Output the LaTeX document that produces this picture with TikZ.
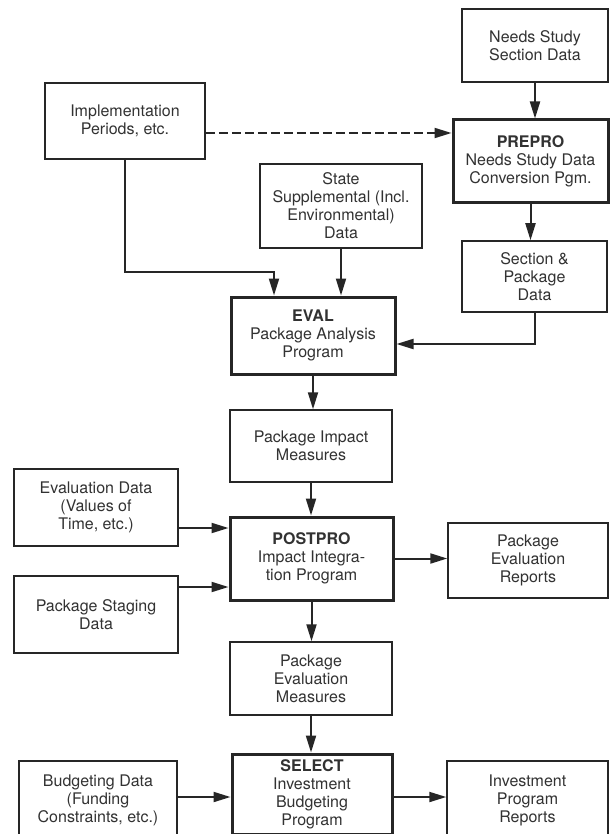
\documentclass[tikz,border=0pt]{standalone}
\usepackage{fontspec}
\setmainfont{TeX Gyre Heros}
\usetikzlibrary{arrows.meta}

\definecolor{ink}{RGB}{38,38,38}
\definecolor{txt}{RGB}{50,50,50}

\tikzset{
  databox/.style={draw=ink, line width=1.5pt, align=center, inner sep=0pt,
    text=txt, font=\fontsize{16}{18}\selectfont},
  progbox/.style={databox, line width=3pt},
  flow/.style={draw=ink, line width=2pt,
    -{Triangle[length=17pt,width=10pt]}},
}

\begin{document}
\begin{tikzpicture}[x=1pt, y=-1pt]
  \useasboundingbox[fill=white] (0,0) rectangle (610,834);

  % inputs and programs, top to bottom
  \node[databox, minimum width=146pt, minimum height=73pt] (needs) at (535,45.5)
    {Needs Study\\Section Data};
  \node[progbox, minimum width=155pt, minimum height=83pt] (prepro) at (530.5,161.5)
    {\textbf{PREPRO}\\Needs Study Data\\Conversion Pgm.};
  \node[databox, minimum width=160pt, minimum height=76pt] (impl) at (125,121)
    {Implementation\\Periods, etc.};
  \node[databox, minimum width=162pt, minimum height=84pt] (state) at (341,206)
    {State\\Supplemental (Incl.\\Environmental)\\Data};
  \node[databox, minimum width=145pt, minimum height=71pt] (section) at (534.5,276.5)
    {Section \&\\Package\\Data};
  \node[progbox, minimum width=164pt, minimum height=77pt] (eval) at (313,335.5)
    {\textbf{EVAL}\\Package Analysis\\Program};
  \node[databox, minimum width=162pt, minimum height=72pt] (impact) at (311,446)
    {Package Impact\\Measures};
  \node[databox, minimum width=164pt, minimum height=77pt] (evaldata) at (96,507.5)
    {Evaluation Data\\(Values of\\Time, etc.)};
  \node[progbox, minimum width=163pt, minimum height=83pt] (postpro) at (311.5,558.5)
    {\textbf{POSTPRO}\\Impact Integra-\\tion Program};
  \node[databox, minimum width=160pt, minimum height=75pt] (reports) at (528,560.5)
    {Package\\Evaluation\\Reports};
  \node[databox, minimum width=164pt, minimum height=77pt] (staging) at (96,614.5)
    {Package Staging\\Data};
  \node[databox, minimum width=162pt, minimum height=73pt] (measures) at (311,678.5)
    {Package\\Evaluation\\Measures};
  \node[databox, minimum width=158pt, minimum height=78pt] (budget) at (98,800)
    {Budgeting Data\\(Funding\\Constraints, etc.)};
  \node[progbox, minimum width=160pt, minimum height=80pt] (select) at (312,794)
    {\textbf{SELECT}\\Investment\\Budgeting\\Program};
  \node[databox, minimum width=161pt, minimum height=78pt] (invest) at (527.5,800)
    {Investment\\Program\\Reports};

  % connectors (yshift is upward on the page)
  \coordinate (ielbow) at (274,272);
  \draw[flow] (needs.south) -- (needs.south |- prepro.north);
  \draw[flow, dash pattern=on 9pt off 4pt] ([yshift=-12pt]impl.east)
    -- ([yshift=-12pt]impl.east -| prepro.west);
  \draw[flow] (impl.south) |- (ielbow) -- (ielbow |- eval.north);
  \draw[flow] (state.south) -- (state.south |- eval.north);
  \draw[flow] (prepro.south) -- (prepro.south |- section.north);
  \draw[flow] (section.south) |- ([yshift=-8.5pt]eval.east);
  \draw[flow] (eval.south) -- (eval.south |- impact.north);
  \draw[flow] (impact.south) -- (impact.south |- postpro.north);
  \draw[flow] ([yshift=-20.5pt]evaldata.east) -- ([yshift=-20.5pt]evaldata.east -| postpro.west);
  \draw[flow] ([yshift=27.5pt]staging.east) -- ([yshift=27.5pt]staging.east -| postpro.west);
  \draw[flow] (postpro.east) -- (postpro.east -| reports.west);
  \draw[flow] (postpro.south) -- (postpro.south |- measures.north);
  \draw[flow] (measures.south) -- (measures.south |- select.north);
  \draw[flow] ([yshift=3pt]budget.east) -- ([yshift=3pt]budget.east -| select.west);
  \draw[flow] ([yshift=3pt]select.east |- budget.east) -- ([yshift=3pt]budget.east -| invest.west);
\end{tikzpicture}
\end{document}
